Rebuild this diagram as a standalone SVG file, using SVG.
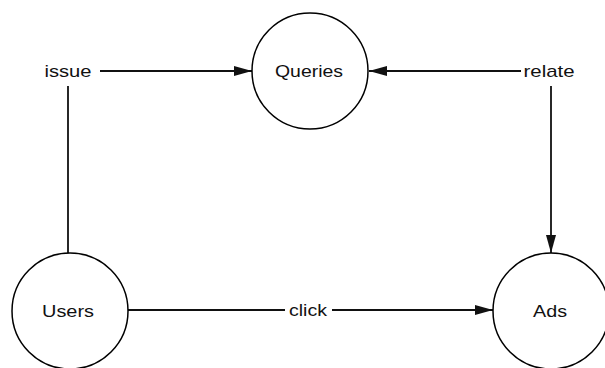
<svg xmlns="http://www.w3.org/2000/svg" width="605" height="368" viewBox="0 0 605 368">
<style>
.node circle{fill:#fff;stroke:#000;stroke-width:1.5}
text{font-family:"Liberation Sans",Arial,sans-serif;font-size:17px;fill:#111;text-anchor:middle}
.edge{stroke:#111;stroke-width:1.8;fill:none}
</style>
<defs>
<marker id="arr" viewBox="0 0 18 10" refX="18" refY="5" markerWidth="18" markerHeight="10" markerUnits="userSpaceOnUse" orient="auto">
<path d="M0,0 L18,5 L0,10 Z" fill="#111"/>
</marker>
</defs>
<rect width="605" height="368" fill="#fff"/>
<g id="connectors">
<line class="edge" x1="100" y1="71" x2="252" y2="71" marker-end="url(#arr)"/>
<line class="edge" x1="68" y1="86" x2="68" y2="253"/>
<line class="edge" x1="521" y1="71" x2="369" y2="71" marker-end="url(#arr)"/>
<line class="edge" x1="551" y1="86" x2="551" y2="253" marker-end="url(#arr)"/>
<line class="edge" x1="128" y1="310" x2="285" y2="310"/>
<line class="edge" x1="332" y1="310" x2="493" y2="310" marker-end="url(#arr)"/>
<text x="68" y="77" textLength="47" lengthAdjust="spacingAndGlyphs">issue</text>
<text x="549" y="77" textLength="51" lengthAdjust="spacingAndGlyphs">relate</text>
<text x="308" y="316" textLength="38" lengthAdjust="spacingAndGlyphs">click</text>
</g>
<g id="queries" class="node">
<circle cx="310" cy="71" r="58"/>
<text x="309" y="77" textLength="68" lengthAdjust="spacingAndGlyphs">Queries</text>
</g>
<g id="users" class="node">
<circle cx="70" cy="311" r="58"/>
<text x="68" y="317" textLength="52" lengthAdjust="spacingAndGlyphs">Users</text>
</g>
<g id="ads" class="node">
<circle cx="551" cy="311" r="58"/>
<text x="550" y="317" textLength="34" lengthAdjust="spacingAndGlyphs">Ads</text>
</g>
</svg>
